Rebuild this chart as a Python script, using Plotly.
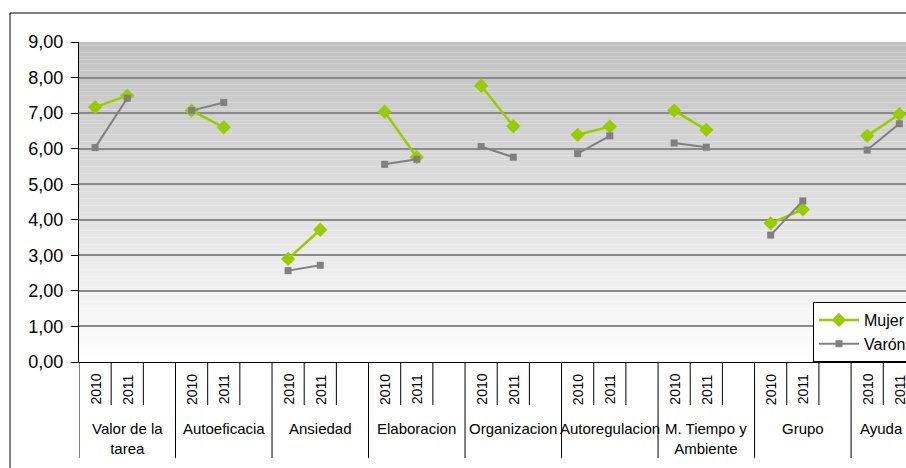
import plotly.graph_objects as go

# Scale values per dimension and year
categories = ["Valor de la<br>tarea", "Autoeficacia", "Ansiedad", "Elaboracion",
              "Organizacion", "Autoregulacion", "M. Tiempo y<br>Ambiente", "Grupo", "Ayuda"]
years = ["2010", "2011"]
mujer_2010 = [7.17, 7.07, 2.90, 7.04, 7.77, 6.39, 7.07, 3.90, 6.36]
mujer_2011 = [7.49, 6.60, 3.72, 5.76, 6.63, 6.62, 6.53, 4.29, 6.97]
varon_2010 = [6.03, 7.07, 2.57, 5.56, 6.06, 5.86, 6.16, 3.57, 5.96]
varon_2011 = [7.42, 7.30, 2.72, 5.70, 5.76, 6.36, 6.04, 4.53, 6.70]
y_ticks = [0, 1, 2, 3, 4, 5, 6, 7, 8, 9]
y_tick_text = ["0,00", "1,00", "2,00", "3,00", "4,00", "5,00", "6,00", "7,00", "8,00", "9,00"]

FONT = "Liberation Sans, Arial, sans-serif"
W, H = 906, 468
ML, MT, MB = 79, 42, 106
plot_w = W - ML
plot_h = H - MT - MB
slot_px = 32.17
slots_per_group = 3
n_slots = slots_per_group * len(categories)
x_max = plot_w / slot_px - 0.5


def py_to_paper(py):
    return (H - MB - py) / plot_h


def series(v2010, v2011):
    xs, ys = [], []
    for i, (a, b) in enumerate(zip(v2010, v2011)):
        base = slots_per_group * i
        xs += [base, base + 1, base + 2]
        ys += [a, b, None]
    return xs, ys


fig = go.Figure()

xm, ym = series(mujer_2010, mujer_2011)
xv, yv = series(varon_2010, varon_2011)

fig.add_trace(go.Scatter(
    x=xm, y=ym, name="Mujer", mode="lines+markers", connectgaps=False,
    line=dict(color="#99cc00", width=2.5),
    marker=dict(symbol="diamond", size=11, color="#99cc00"),
))
fig.add_trace(go.Scatter(
    x=xv, y=yv, name="Varón", mode="lines+markers", connectgaps=False,
    line=dict(color="#808080", width=2),
    marker=dict(symbol="square", size=7, color="#808080"),
))

shapes = []
# vertical gradient background of the plot area
n_strips = 90
top_c, bot_c = 192, 255
for k in range(n_strips):
    y0 = 9 * k / n_strips
    y1 = 9 * (k + 1) / n_strips
    t = (k + 0.5) / n_strips
    c = round(bot_c + (top_c - bot_c) * t)
    shapes.append(dict(type="rect", xref="paper", yref="y", x0=0, x1=1, y0=y0, y1=y1,
                       fillcolor=f"rgb({c},{c},{c})", line=dict(width=0), layer="below"))

# category separators below the axis
year_bottom = py_to_paper(405)
group_bottom = py_to_paper(458)
for k in range(n_slots + 1):
    is_group = k % slots_per_group == 0
    shapes.append(dict(type="line", xref="x", yref="paper",
                       x0=k - 0.5, x1=k - 0.5, y0=0,
                       y1=group_bottom if is_group else year_bottom,
                       line=dict(color="black", width=1)))

# outer chart frame
shapes.append(dict(type="rect", xref="paper", yref="paper",
                   x0=(10 - ML) / plot_w, x1=1.3, y0=-0.6, y1=py_to_paper(13),
                   line=dict(color="black", width=1), fillcolor="rgba(0,0,0,0)"))

annotations = []
for i, cat in enumerate(categories):
    base = slots_per_group * i
    for j, yr in enumerate(years):
        annotations.append(dict(x=base + j, y=py_to_paper(389.5), xref="x", yref="paper",
                                text=yr, textangle=-90, showarrow=False,
                                xanchor="center", yanchor="middle",
                                font=dict(family=FONT, size=14, color="black")))
    label = dict(x=base + 1, y=py_to_paper(418), xref="x", yref="paper",
                 text=cat, showarrow=False, xanchor="center", yanchor="top",
                 align="center", font=dict(family=FONT, size=15, color="black"))
    if i == len(categories) - 1:
        # last group is only partly visible: keep its label inside the chart
        label.update(x=1, xref="paper", xanchor="right", xshift=-1)
    annotations.append(label)

fig.update_layout(
    width=W, height=H,
    margin=dict(l=ML, r=0, t=MT, b=MB, autoexpand=False),
    paper_bgcolor="white", plot_bgcolor="white",
    font=dict(family=FONT, color="black"),
    showlegend=True,
    legend=dict(x=(813 - ML) / plot_w, y=py_to_paper(302), xanchor="left", yanchor="top",
                bgcolor="white", bordercolor="black", borderwidth=1,
                font=dict(family=FONT, size=16, color="black"),
                tracegroupgap=0, itemwidth=40),
    shapes=shapes,
    annotations=annotations,
    xaxis=dict(range=[-0.5, x_max], showticklabels=False, showgrid=False,
               zeroline=False, showline=True, linecolor="black", linewidth=1,
               ticks="", fixedrange=True),
    yaxis=dict(range=[0, 9], tickvals=y_ticks, ticktext=y_tick_text,
               showgrid=True, gridcolor="#8a8a8a", gridwidth=1.5,
               zeroline=False, showline=True, linecolor="black", linewidth=1,
               ticks="outside", ticklen=7, tickcolor="black",
               tickfont=dict(family=FONT, size=18, color="black"),
               ticklabelstandoff=4, fixedrange=True),
)

fig.write_html("out.html")
